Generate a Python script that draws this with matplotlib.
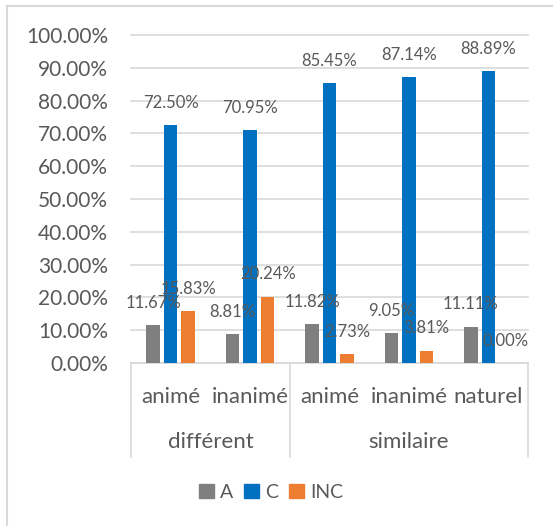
import matplotlib.pyplot as plt
from matplotlib.lines import Line2D
from matplotlib.patches import Patch

plt.rcParams['font.family'] = ['Lato', 'DejaVu Sans']

# data
groups = ['différent', 'similaire']
group_sizes = [2, 3]
subcats = ['animé', 'inanimé', 'animé', 'inanimé', 'naturel']
series = ['A', 'C', 'INC']
vals_A = [11.67, 8.81, 11.82, 9.05, 11.11]
vals_C = [72.50, 70.95, 85.45, 87.14, 88.89]
vals_INC = [15.83, 20.24, 2.73, 3.81, 0.00]
colors = ['#7f7f7f', '#0070c0', '#ed7d31']

W, H = 553, 526
fig = plt.figure(figsize=(W / 100, H / 100), dpi=100)

# chart border (top and left edges visible)
fig.add_artist(Line2D([7 / W, 7 / W], [0, 1 - 6 / H], color='#d9d9d9', lw=1.5))
fig.add_artist(Line2D([7 / W, 1], [1 - 6 / H, 1 - 6 / H], color='#d9d9d9', lw=1.5))

x0, x1, y0, y1 = 131, 528, 363, 35
ax = fig.add_axes([x0 / W, 1 - y0 / H, (x1 - x0) / W, (y0 - y1) / H])

txt = '#595959'
step, width = 0.22, 0.17
for j, (name, vals) in enumerate(zip(series, [vals_A, vals_C, vals_INC])):
    xs = [i + (j - 1) * step for i in range(len(subcats))]
    ax.bar(xs, [v / 100 for v in vals], width, color=colors[j], zorder=3)
    for x, v in zip(xs, vals):
        ax.annotate(f'{v:.2f}%', (x, v / 100), xytext=(0, 16), textcoords='offset points',
                    ha='center', va='center', fontsize=12, color=txt, zorder=4)

ax.set_xlim(-0.5, len(subcats) - 0.5)
ax.set_ylim(0, 1.0)
ax.set_yticks([i / 10 for i in range(11)])
ax.set_yticklabels([f'{i * 10:.2f}%' for i in range(11)], fontsize=15, color=txt)
ax.tick_params(axis='y', length=0, pad=23 * 0.72)
ax.tick_params(axis='x', length=0, labelbottom=False)
ax.grid(axis='y', color='#d9d9d9', lw=1.2, zorder=0, clip_on=False)
for s in ['top', 'right', 'left']:
    ax.spines[s].set_visible(False)
ax.spines['bottom'].set_color('#d9d9d9')
ax.spines['bottom'].set_linewidth(1.2)

# multi-level category axis
tr = ax.get_xaxis_transform()
for i, s in enumerate(subcats):
    ax.text(i, (363 - 397) / 328, s, transform=tr, ha='center', va='center',
            fontsize=16, color=txt)
start = 0
bounds = [-0.5]
for g, n in zip(groups, group_sizes):
    ax.text(start + (n - 1) / 2, (363 - 442) / 328, g, transform=tr, ha='center',
            va='center', fontsize=16, color=txt)
    start += n
    bounds.append(start - 0.5)
for b in bounds:
    ax.plot([b, b], [0, (363 - 457) / 328], transform=tr, color='#d9d9d9', lw=1.2, clip_on=False)

handles = [Patch(color=c, label=s) for c, s in zip(colors, series)]
fig.legend(handles=handles, loc='center', bbox_to_anchor=(271 / W, 1 - 492 / H), ncol=3,
           frameon=False, fontsize=14, handlelength=0.75, handleheight=0.75,
           handletextpad=0.3, columnspacing=0.6, labelcolor=txt, borderpad=0)

fig.savefig('out.png', dpi=100)
